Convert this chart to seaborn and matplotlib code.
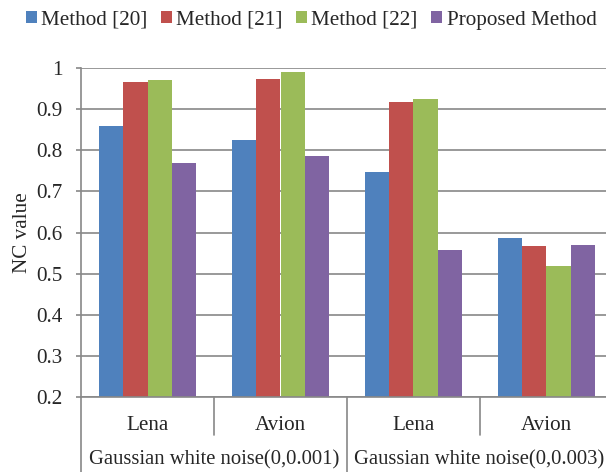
import matplotlib
matplotlib.use("Agg")
import matplotlib.pyplot as plt
import matplotlib.transforms as mtransforms
import seaborn as sns
import pandas as pd

# Test images, grouped by noise level
images = ["Lena", "Avion", "Lena", "Avion"]
noise_levels = ["Gaussian white noise(0,0.001)", "Gaussian white noise(0,0.003)"]
methods = ["Method [20]", "Method [21]", "Method [22]", "Proposed Method"]
colors = ["#4F81BD", "#C0504D", "#9BBB59", "#8064A2"]

# NC values per method, one entry per (image, noise) condition
nc_m20 = [0.860, 0.824, 0.747, 0.587]
nc_m21 = [0.966, 0.973, 0.917, 0.566]
nc_m22 = [0.972, 0.991, 0.924, 0.519]
nc_prop = [0.769, 0.785, 0.557, 0.570]

y_ticks = [0.2, 0.3, 0.4, 0.5, 0.6, 0.7, 0.8, 0.9, 1.0]
y_tick_labels = ["0.2", "0.3", "0.4", "0.5", "0.6", "0.7", "0.8", "0.9", "1"]

conditions = [f"{img} | {noise_levels[i // 2]}" for i, img in enumerate(images)]
series = [nc_m20, nc_m21, nc_m22, nc_prop]
df = pd.DataFrame(
    [
        {"condition": c, "method": m, "nc": v}
        for m, vals in zip(methods, series)
        for c, v in zip(conditions, vals)
    ]
)

sns.set_style("white")
plt.rcParams["font.family"] = ["Liberation Serif", "DejaVu Serif"]
FS = 15.2
FS_GROUP = 14.85
GRID = "#888888"

fig = plt.figure(figsize=(6.06, 4.72), dpi=100)
ax = fig.add_axes([81 / 606, 75 / 472, 532 / 606, 329 / 472])

sns.barplot(
    data=df, x="condition", y="nc", hue="method", order=conditions,
    hue_order=methods, palette=colors, width=0.722, gap=0,
    saturation=1, linewidth=0, ax=ax,
)

ax.set_ylim(0.2, 1.0)
ax.set_xlim(-0.5, 3.5)
ax.set_yticks(y_ticks)
ax.set_yticklabels(y_tick_labels, fontsize=FS)
ax.yaxis.grid(True, color=GRID, linewidth=1.2)
ax.set_axisbelow(True)

for side in ["top", "right"]:
    ax.spines[side].set_visible(False)
for side in ["left", "bottom"]:
    ax.spines[side].set_color(GRID)
    ax.spines[side].set_linewidth(1.2)

ax.tick_params(axis="y", which="major", direction="out", length=3.6,
               width=1.2, color=GRID, pad=9.5, left=True)
ax.set_xticks(range(len(images)))
ax.set_xticklabels(images, fontsize=FS)
ax.tick_params(axis="x", length=0, pad=13.5)

ax.set_ylabel("NC value", fontsize=FS)
ax.set_xlabel("")
ax.yaxis.set_label_coords(-0.093, 0.5)

# Two-level category axis: separators and noise-level group labels
trans = mtransforms.blended_transform_factory(ax.transData, ax.transAxes)
for xb in [-0.5, 0.5, 1.5, 2.5, 3.5]:
    bottom = -0.23 if xb in (-0.5, 1.5, 3.5) else -0.115
    ax.plot([xb, xb], [0, bottom], transform=trans, color=GRID,
            linewidth=1.2, clip_on=False)
for gi, label in enumerate(noise_levels):
    ax.text(gi * 2 + 0.5 - 0.008 * gi, -0.192, label, transform=trans,
            ha="center", va="center", fontsize=FS_GROUP)

sns.move_legend(
    ax, "center", bbox_to_anchor=(311 / 606, 1 - 20 / 472),
    bbox_transform=fig.transFigure, ncol=4, frameon=False, title=None,
    fontsize=FS, handlelength=0.54, handleheight=0.54, handletextpad=0.2,
    columnspacing=0.62, borderpad=0, borderaxespad=0,
)

fig.savefig("out.png", dpi=100)
